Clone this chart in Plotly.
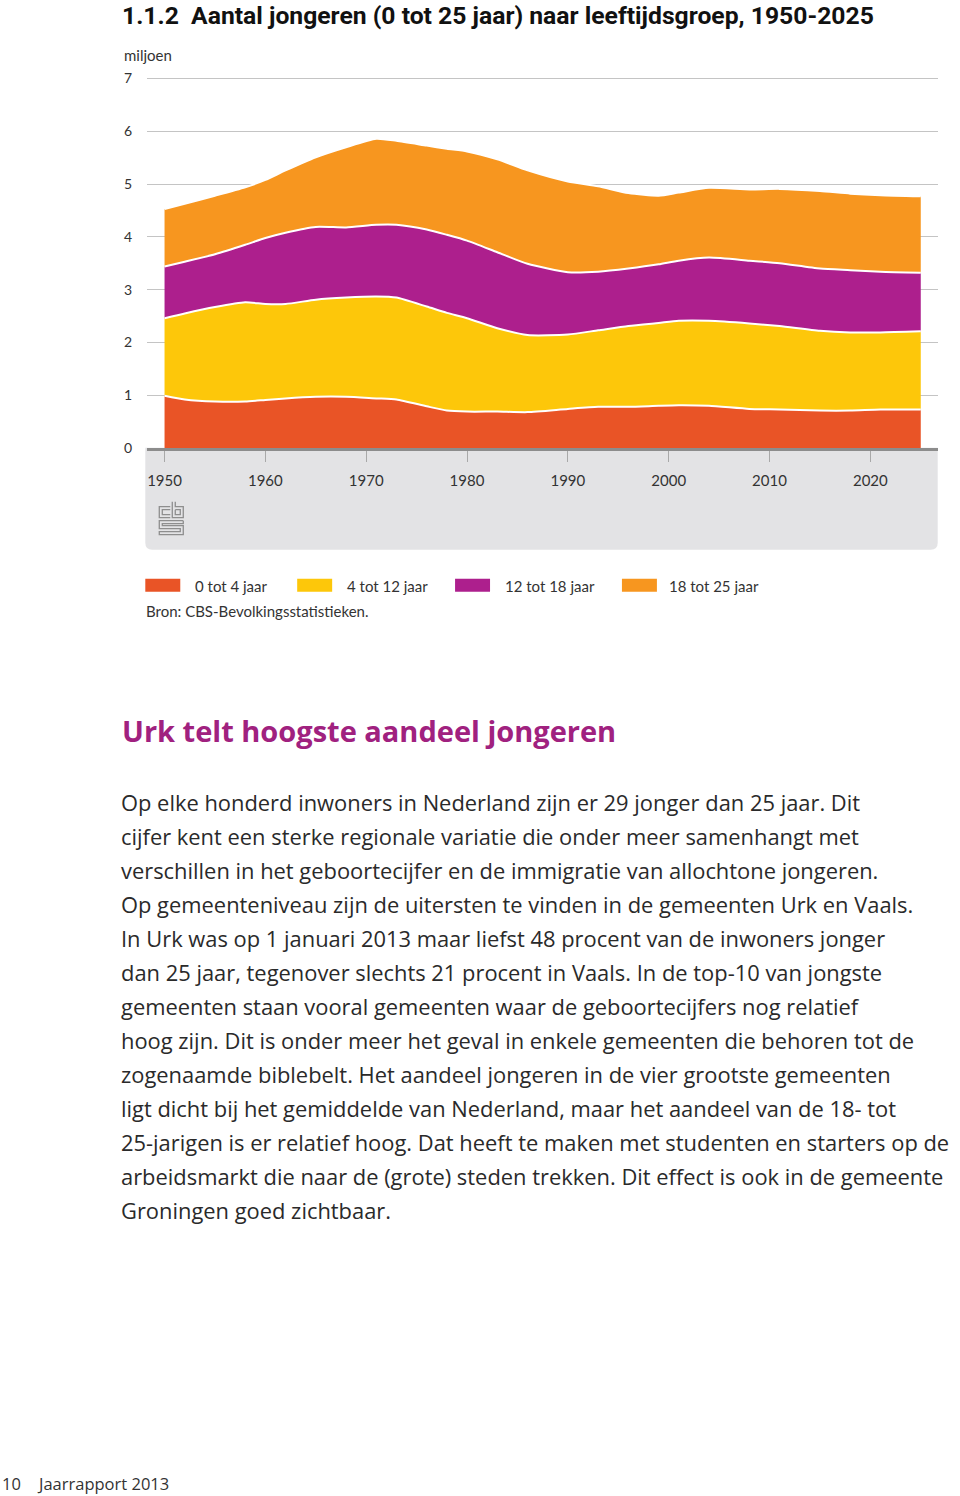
import plotly.graph_objects as go

# ---------------- data (miljoen) ----------------
years = [1950, 1952, 1955, 1958, 1960, 1962, 1965, 1968, 1971, 1973, 1976, 1978, 1980,
         1983, 1986, 1990, 1993, 1996, 1999, 2001, 2004, 2008, 2011, 2015, 2018, 2021, 2025]
age_0_4 = [0.99, 0.92, 0.88, 0.88, 0.91, 0.94, 0.97, 0.97, 0.94, 0.92, 0.79, 0.71, 0.69,
           0.69, 0.68, 0.74, 0.78, 0.78, 0.80, 0.81, 0.80, 0.74, 0.73, 0.71, 0.71, 0.73, 0.73]
age_4_12 = [1.47, 1.63, 1.79, 1.88, 1.82, 1.79, 1.84, 1.88, 1.93, 1.93, 1.89, 1.85, 1.77,
            1.58, 1.46, 1.41, 1.45, 1.53, 1.57, 1.60, 1.61, 1.62, 1.58, 1.51, 1.48, 1.46, 1.48]
age_12_18 = [0.98, 0.98, 1.00, 1.09, 1.25, 1.35, 1.38, 1.33, 1.36, 1.38, 1.46, 1.48, 1.47,
             1.44, 1.35, 1.18, 1.11, 1.09, 1.11, 1.14, 1.20, 1.19, 1.19, 1.18, 1.18, 1.15, 1.11]
age_18_25 = [1.09, 1.10, 1.11, 1.09, 1.10, 1.18, 1.32, 1.52, 1.63, 1.59, 1.59, 1.63, 1.69,
             1.76, 1.77, 1.72, 1.62, 1.43, 1.30, 1.29, 1.32, 1.35, 1.41, 1.47, 1.45, 1.45, 1.45]

series_names = ["0 tot 4 jaar", "4 tot 12 jaar", "12 tot 18 jaar", "18 tot 25 jaar"]
series_values = [age_0_4, age_4_12, age_12_18, age_18_25]
colors = ["#E95426", "#FDC70A", "#AD1F8D", "#F7961F"]

x_ticks = [1950, 1960, 1970, 1980, 1990, 2000, 2010, 2020]
y_ticks = [0, 1, 2, 3, 4, 5, 6, 7]

title_text = "1.1.2  Aantal jongeren (0 tot 25 jaar) naar leeftijdsgroep, 1950-2025"
unit_text = "miljoen"
source_text = "Bron: CBS-Bevolkingsstatistieken."
heading_text = "Urk telt hoogste aandeel jongeren"
body_lines = [
    "Op elke honderd inwoners in Nederland zijn er 29 jonger dan 25 jaar. Dit",
    "cijfer kent een sterke regionale variatie die onder meer samenhangt met",
    "verschillen in het geboortecijfer en de immigratie van allochtone jongeren.",
    "Op gemeenteniveau zijn de uitersten te vinden in de gemeenten Urk en Vaals.",
    "In Urk was op 1 januari 2013 maar liefst 48 procent van de inwoners jonger",
    "dan 25 jaar, tegenover slechts 21 procent in Vaals. In de top-10 van jongste",
    "gemeenten staan vooral gemeenten waar de geboortecijfers nog relatief",
    "hoog zijn. Dit is onder meer het geval in enkele gemeenten die behoren tot de",
    "zogenaamde biblebelt. Het aandeel jongeren in de vier grootste gemeenten",
    "ligt dicht bij het gemiddelde van Nederland, maar het aandeel van de 18- tot",
    "25-jarigen is er relatief hoog. Dat heeft te maken met studenten en starters op de",
    "arbeidsmarkt die naar de (grote) steden trekken. Dit effect is ook in de gemeente",
    "Groningen goed zichtbaar.",
]
footer_page = "10"
footer_text = "Jaarrapport 2013"

# ---------------- layout geometry ----------------
FIG_W, FIG_H = 960, 1496
Y_TOP = 7.03
PX_PER_UNIT = 52.77
L, R, B = 146.7, 938.3, 448.3
T = B - Y_TOP * PX_PER_UNIT
PW, PH = R - L, B - T


def px_x(px):
    return (px - L) / PW


def px_y(py):
    return (B - py) / PH


TXT = "#333333"
CHART_FONT = "Lato"
BODY_FONT = "Open Sans"
TITLE_FONT = "Liberation Sans Narrow, Roboto, sans-serif"

fig = go.Figure()
for name, vals, col in zip(series_names, series_values, colors):
    fig.add_trace(go.Scatter(
        x=years, y=vals, name=name, mode="lines", stackgroup="one",
        line=dict(color="white", width=2, shape="spline", smoothing=0.6),
        fillcolor=col, showlegend=False, hoverinfo="x+y+name",
    ))

shapes = []
# grey panel below the x-axis with rounded bottom corners
x0, x1, y0, y1, r = 145, 938, 448, 550, 7
pts = (f"M {px_x(x0)},{px_y(y0)} L {px_x(x1)},{px_y(y0)} L {px_x(x1)},{px_y(y1 - r)} "
       f"Q {px_x(x1)},{px_y(y1)} {px_x(x1 - r)},{px_y(y1)} L {px_x(x0 + r)},{px_y(y1)} "
       f"Q {px_x(x0)},{px_y(y1)} {px_x(x0)},{px_y(y1 - r)} Z")
shapes.append(dict(type="path", xref="paper", yref="paper", path=pts,
                   fillcolor="#E3E3E5", line=dict(width=0), layer="below"))

# CBS logo (simplified outline)
lg = "#8E8E8E"
def seg(pxs):
    d = "M " + " L ".join(f"{px_x(a)},{px_y(b)}" for a, b in pxs)
    return dict(type="path", xref="paper", yref="paper", path=d,
                line=dict(color=lg, width=1.3), layer="above")
# c
shapes.append(seg([(170, 507), (159, 507), (159, 518), (170, 518)]))
shapes.append(seg([(170, 510), (162, 510), (162, 515), (170, 515)]))
# b
shapes.append(seg([(172, 502), (172, 518), (183, 518), (183, 507), (175, 507), (175, 502)]))
shapes.append(seg([(175, 510), (180, 510), (180, 515), (175, 515), (175, 510)]))
# S
shapes.append(seg([(183, 521), (159, 521), (159, 529), (180, 529), (180, 532), (159, 532), (159, 535), (183, 535),
                   (183, 526), (162, 526), (162, 524), (183, 524), (183, 521)]))

# legend swatches
leg_sw_x = [145, 297, 455, 622]
leg_tx_x = [193, 345, 503, 667]
for sx, col in zip(leg_sw_x, colors):
    shapes.append(dict(type="rect", xref="paper", yref="paper",
                       x0=px_x(sx), x1=px_x(sx + 35), y0=px_y(579), y1=px_y(592),
                       fillcolor=col, line=dict(width=0)))

annotations = []
def ann(text, x, y, size, color=TXT, family=CHART_FONT, weight="normal", xanchor="left"):
    annotations.append(dict(text=text, x=px_x(x), y=px_y(y), xref="paper", yref="paper",
                            xanchor=xanchor, yanchor="middle", showarrow=False,
                            font=dict(family=family, size=size, color=color, weight=weight)))

ann(title_text, 120, 16, 24.7, color="#111111", family=TITLE_FONT, weight="bold")
ann(unit_text, 122, 55, 15)
for tx, name in zip(leg_tx_x, series_names):
    ann(name, tx, 586, 15)
ann(source_text, 144, 611, 15)
ann(heading_text, 120, 731, 29, color="#A0217F", family=BODY_FONT, weight="bold")
for i, line in enumerate(body_lines):
    ann(line, 119, 803 + 34 * i, 21.9, color="#2a2a2a", family=BODY_FONT)
ann(footer_page, 0, 1484, 16.5, family=BODY_FONT)
ann(footer_text, 35, 1484, 16.5, family=BODY_FONT)

fig.update_layout(
    width=FIG_W, height=FIG_H,
    margin=dict(l=L, r=FIG_W - R, t=T, b=FIG_H - B, pad=0),
    paper_bgcolor="white", plot_bgcolor="white",
    showlegend=False,
    shapes=shapes, annotations=annotations,
    xaxis=dict(range=[1948.26, 2026.71], tickvals=x_ticks, ticktext=[str(v) for v in x_ticks],
               showgrid=False, zeroline=False, showline=True, linecolor="#8C8C8C", linewidth=3,
               ticks="outside", ticklen=11, tickwidth=1, tickcolor="#A8A8A8",
               tickfont=dict(family=CHART_FONT, size=15, color=TXT), ticklabelstandoff=6),
    yaxis=dict(range=[0, Y_TOP], tickvals=y_ticks, showgrid=True, gridcolor="#C4C4C4", gridwidth=1,
               zeroline=False, showline=False, ticks="",
               tickfont=dict(family=CHART_FONT, size=14, color=TXT), ticklabelstandoff=14),
)

fig.write_html("out.html")
